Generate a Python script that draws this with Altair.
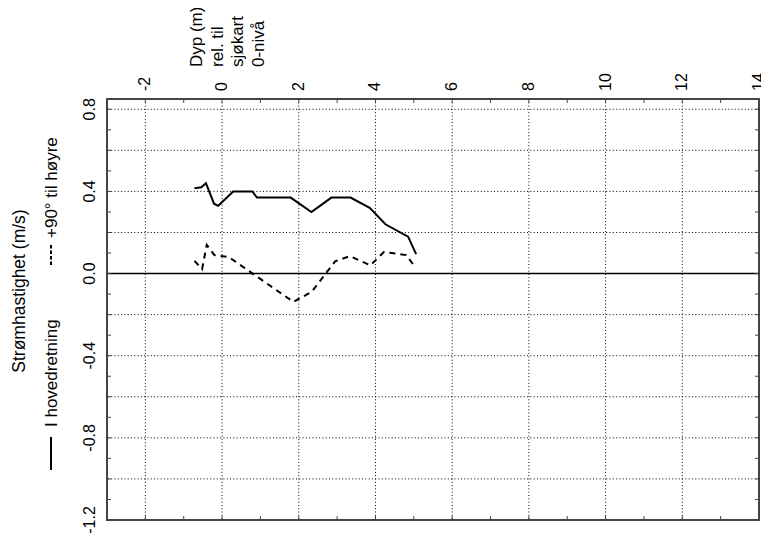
import altair as alt
import pandas as pd

# ---- data ----
depth_main = [-0.72, -0.54, -0.42, -0.21, -0.10, 0.29, 0.79, 0.91, 1.79, 2.33, 2.85, 3.35, 3.85, 4.26, 4.85, 5.06]
speed_main = [0.415, 0.42, 0.44, 0.34, 0.33, 0.40, 0.40, 0.37, 0.37, 0.30, 0.37, 0.37, 0.32, 0.24, 0.18, 0.095]

depth_perp = [-0.72, -0.52, -0.40, -0.20, 0.18, 1.86, 2.33, 2.95, 3.33, 3.87, 4.22, 4.80, 5.04]
speed_perp = [0.062, 0.022, 0.14, 0.09, 0.08, -0.138, -0.09, 0.06, 0.085, 0.04, 0.105, 0.09, 0.03]

x_label_values = [-2, 0, 2, 4, 6, 8, 10, 12, 14]
x_label_text = ["-2", "0", "2", "4", "6", "8", "10", "12", "14"]
y_label_values = [-1.2, -0.8, -0.4, 0.0, 0.4, 0.8]
y_label_text = ["-1.2", "-0.8", "-0.4", "0.0", "0.4", "0.8"]
x_grid_values = [-2, 0, 2, 4, 6, 8, 10, 12]
y_grid_values = [-1.0, -0.8, -0.6, -0.4, -0.2, 0.2, 0.4, 0.6, 0.8]
x_minor_ticks = list(range(-2, 14))
y_minor_ticks = [round(-1.1 + 0.1 * i, 1) for i in range(20)]
zero_line = [0.0]

x_title_lines = ["Dyp (m)", "rel. til", "sjøkart", "0-nivå"]
y_title = "Strømhastighet (m/s)"
legend_main = "I hovedretning"
legend_perp = "+90° til høyre"

W, H = 652, 421
FRAME = "#444444"
FONT = "Liberation Sans"

xscale = alt.Scale(domain=[-3, 14], nice=False, zero=False)
yscale = alt.Scale(domain=[-1.2, 0.85], nice=False, zero=False)

df_main = pd.DataFrame({"depth": depth_main, "speed": speed_main})
df_perp = pd.DataFrame({"depth": depth_perp, "speed": speed_perp})

# grid lines
x_grid = alt.Chart(pd.DataFrame({"v": x_grid_values})).mark_rule(
    color="black", strokeWidth=1, strokeDash=[1, 2.3]
).encode(x=alt.X("v:Q", scale=xscale, axis=None))
y_grid = alt.Chart(pd.DataFrame({"v": y_grid_values})).mark_rule(
    color="black", strokeWidth=1, strokeDash=[1, 2.3]
).encode(y=alt.Y("v:Q", scale=yscale, axis=None))

zero = alt.Chart(pd.DataFrame({"v": zero_line})).mark_rule(color="black", strokeWidth=1.6).encode(
    y=alt.Y("v:Q", scale=yscale, axis=None)
)

main_line = alt.Chart(df_main).mark_line(color="black", strokeWidth=2).encode(
    x=alt.X("depth:Q", scale=xscale, axis=None),
    y=alt.Y("speed:Q", scale=yscale, axis=None),
)
perp_line = alt.Chart(df_perp).mark_line(color="black", strokeWidth=2, strokeDash=[6, 5]).encode(
    x=alt.X("depth:Q", scale=xscale, axis=None),
    y=alt.Y("speed:Q", scale=yscale, axis=None),
)

# inward ticks on all four sides
dfx = pd.DataFrame({"v": x_minor_ticks})
dfy = pd.DataFrame({"v": y_minor_ticks})
tick_top = alt.Chart(dfx).mark_rule(color=FRAME, strokeWidth=1).encode(
    x=alt.X("v:Q", scale=xscale, axis=None), y=alt.value(0), y2=alt.value(4))
tick_bottom = alt.Chart(dfx).mark_rule(color=FRAME, strokeWidth=1).encode(
    x=alt.X("v:Q", scale=xscale, axis=None), y=alt.value(H), y2=alt.value(H - 4))
tick_left = alt.Chart(dfy).mark_rule(color=FRAME, strokeWidth=1).encode(
    y=alt.Y("v:Q", scale=yscale, axis=None), x=alt.value(0), x2=alt.value(4))
tick_right = alt.Chart(dfy).mark_rule(color=FRAME, strokeWidth=1).encode(
    y=alt.Y("v:Q", scale=yscale, axis=None), x=alt.value(W), x2=alt.value(W - 4))

# tick labels (rotated)
x_labels = alt.Chart(pd.DataFrame({"v": x_label_values, "t": x_label_text})).mark_text(
    angle=270, align="left", baseline="middle", fontSize=16, color="black", font=FONT
).encode(x=alt.X("v:Q", scale=xscale, axis=None), y=alt.value(-8), text="t:N")
y_labels = alt.Chart(pd.DataFrame({"v": y_label_values, "t": y_label_text})).mark_text(
    angle=270, align="center", baseline="alphabetic", fontSize=16, color="black", font=FONT
).encode(y=alt.Y("v:Q", scale=yscale, axis=None), x=alt.value(-12), text="t:N")

one = pd.DataFrame({"a": [0]})
x_title = alt.Chart(one).mark_text(
    text=x_title_lines, angle=270, align="left", baseline="top", fontSize=17, lineHeight=20.5,
    color="black", font=FONT
).encode(x=alt.value(82), y=alt.value(-32))
y_title_t = alt.Chart(one).mark_text(
    text=y_title, angle=270, align="center", baseline="middle", fontSize=17.5, color="black", font=FONT
).encode(x=alt.value(-87), y=alt.value(192))
leg_main_t = alt.Chart(one).mark_text(
    text=legend_main, angle=270, align="left", baseline="middle", fontSize=17, color="black", font=FONT
).encode(x=alt.value(-55), y=alt.value(328))
leg_perp_t = alt.Chart(one).mark_text(
    text=legend_perp, angle=270, align="left", baseline="middle", fontSize=17, color="black", font=FONT
).encode(x=alt.value(-55), y=alt.value(139))
leg_main_line = alt.Chart(one).mark_rule(color="black", strokeWidth=2).encode(
    x=alt.value(-56), y=alt.value(338), y2=alt.value(371))
leg_perp_line = alt.Chart(one).mark_rule(color="black", strokeWidth=2, strokeDash=[3.5, 2]).encode(
    x=alt.value(-56), y=alt.value(146), y2=alt.value(167))

chart = alt.layer(
    x_grid, y_grid, zero, main_line, perp_line,
    tick_top, tick_bottom, tick_left, tick_right,
    x_labels, y_labels,
    x_title, y_title_t, leg_main_t, leg_perp_t, leg_main_line, leg_perp_line,
).properties(
    width=W, height=H,
    padding={"left": 99, "top": 91, "right": 2, "bottom": 16},
    autosize=alt.AutoSizeParams(type="none"),
).configure(font=FONT).configure_view(stroke=FRAME, strokeWidth=2)

chart.save("out.html", embed_options={"renderer": "svg", "actions": False})
